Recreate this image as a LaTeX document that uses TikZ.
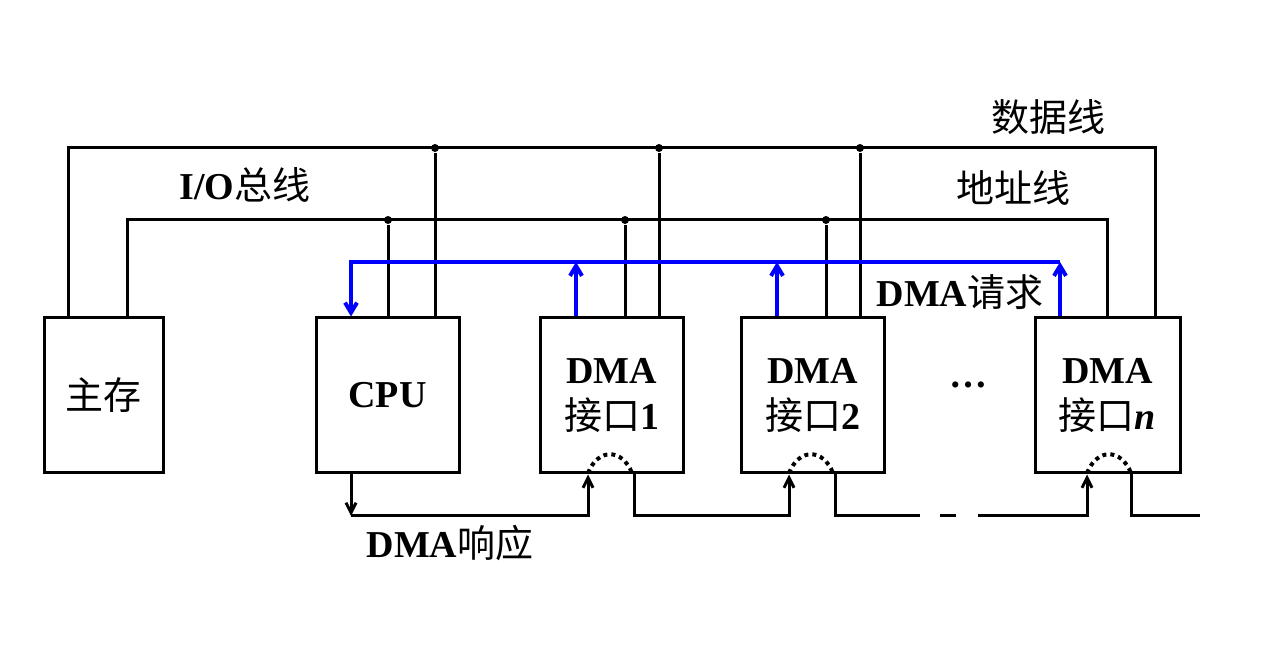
\documentclass[tikz,border=0pt]{standalone}
\usepackage{fontspec}
\setmainfont{Liberation Serif}
\newfontfamily\cjk{Noto Sans CJK SC}
\usetikzlibrary{arrows.meta}
\tikzset{every picture/.style={line width=1.5pt}}
\tikzset{
  box/.style={draw, minimum width=71.5pt, minimum height=77.5pt, inner sep=0pt, align=center, font=\fontsize{19}{23}\selectfont\bfseries},
  lbl/.style={font=\fontsize{19}{23}\selectfont\bfseries, inner sep=0pt},
  dot/.style={circle, fill, inner sep=0pt, minimum size=4pt},
  req/.style={draw=blue, line width=2pt, -{Straight Barb[length=5pt,width=6pt]}},
  ack/.style={-{Straight Barb[length=5pt,width=5pt]}}
}
\begin{document}
\begin{tikzpicture}[x=0.5pt,y=0.5pt,yscale=-1,xscale=1]
\useasboundingbox (0,0) rectangle (1280,667);

%Boxes
\node[box, minimum width=59.5pt] (mem) at (103.5,395.5) {{\cjk\mdseries 主存}};
\node[box] (cpu) at (387.5,395.5) {CPU};
\node[box] (dma1) at (611.5,395.5) {DMA\\{\cjk\mdseries 接口}1};
\node[box] (dma2) at (812.5,395.5) {DMA\\{\cjk\mdseries 接口}2};
\node[box, minimum width=72.5pt] (dman) at (1107.5,395.5) {DMA\\{\cjk\mdseries 接口}\textit{n}};

%Data bus
\coordinate (d0) at (68,148);
\coordinate (d1) at (1155,148);
\draw (mem.north -| d0) -- (d0) -- (d1) -- (dman.north -| d1);
\foreach \x/\b in {435/cpu, 659/dma1, 860/dma2}{
  \node[dot] (dd\b) at (\x,148) {};
  \draw (dd\b) -- (\b.north -| dd\b);
}
%Address bus
\coordinate (a0) at (127,220);
\coordinate (a1) at (1107,220);
\draw (mem.north -| a0) -- (a0) -- (a1) -- (dman.north -| a1);
\foreach \x/\b in {388/cpu, 625/dma1, 826/dma2}{
  \node[dot] (ad\b) at (\x,220) {};
  \draw (ad\b) -- (\b.north -| ad\b);
}

%DMA request
\coordinate (r0) at (351,262);
\coordinate (r1) at (1060,262);
\draw[req] (r1) -- (r0) -- (cpu.north -| r0);
\draw[req] (dman.north -| r1) -- (r1);
\foreach \x/\b in {576/dma1, 777/dma2}
  \draw[req] (\b.north -| \x,0) -- (\x,262);

%DMA acknowledge chain
\coordinate (c0) at (351,516);
\draw[ack] (cpu.south -| c0) -- (c0);
\draw[ack] (c0) -- (588,516) -- (dma1.south -| 588,0);
\draw[ack] (dma1.south -| 634,0) -- (634,516) -- (789,516) -- (dma2.south -| 789,0);
\draw (dma2.south -| 835,0) -- (835,516) -- (920,516);
\draw (940,516) -- (956,516);
\draw[ack] (978,516) -- (1087,516) -- (dman.south -| 1087,0);
\draw (dman.south -| 1131,0) -- (1131,516) -- (1200,516);
\foreach \x in {588, 789, 1087}
  \draw[dotted, line width=2pt] (\x,473) .. controls (\x+10,448) and (\x+34,448) .. (\x+44,473);

%Labels
\node[lbl] (ldata) at (1048,117) {{\cjk\mdseries 数据线}};
\node[lbl] (lio) at (245,185) {I/O{\cjk\mdseries 总线}};
\node[lbl] (laddr) at (1013,188) {{\cjk\mdseries 地址线}};
\node[lbl] (lreq) at (960,292) {DMA{\cjk\mdseries 请求}};
\node[lbl] (lack) at (450,543) {DMA{\cjk\mdseries 响应}};
\node[lbl] (ldots) at (968,385) {\textbf{…}};
\end{tikzpicture}
\end{document}
